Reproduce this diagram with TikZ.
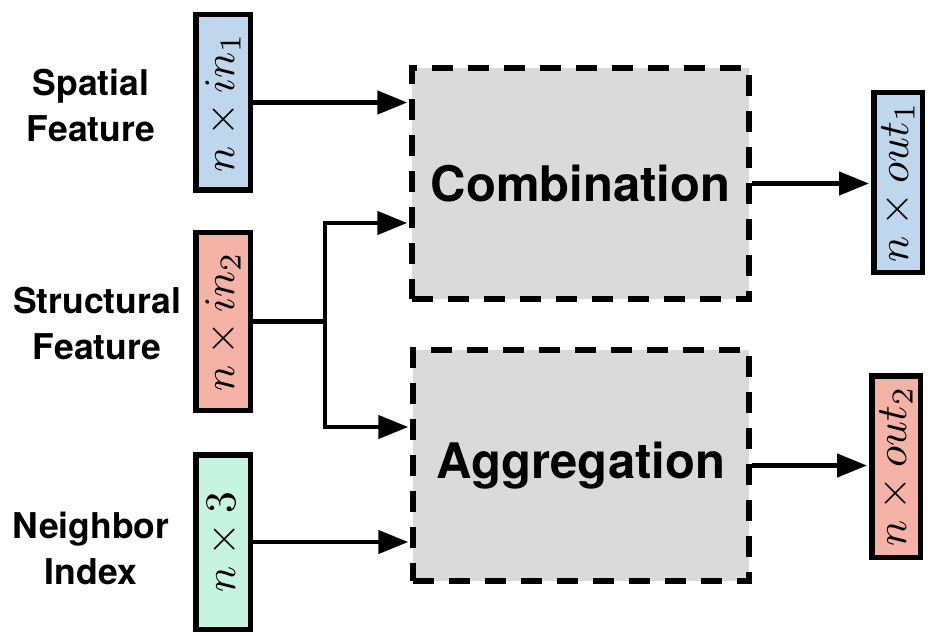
\documentclass[tikz,border=0pt]{standalone}
\usepackage{graphicx}
\usepackage{fontspec}
\setmainfont{TeX Gyre Heros}
\usetikzlibrary{arrows.meta}

\definecolor{featblue}{RGB}{190,215,236}
\definecolor{featred}{RGB}{245,178,166}
\definecolor{featgreen}{RGB}{198,244,224}
\definecolor{opgray}{RGB}{218,218,218}

\newcommand{\dimtext}[1]{\rotatebox{90}{\scalebox{4.35}{$#1$}}}

\tikzset{
  tensor/.style={draw=black, line width=5.5pt, inner sep=0pt,
    minimum width=54.5pt},
  opbox/.style={draw=black, fill=opgray, line width=5.5pt,
    dash pattern=on 21pt off 15pt, inner sep=0pt,
    font=\fontsize{49}{49}\selectfont\bfseries},
  sidelabel/.style={align=center, inner sep=0pt,
    font=\fontsize{35.5}{46}\selectfont\bfseries},
  wire/.style={line width=4.5pt},
  flow/.style={wire, -{Triangle[length=30pt,width=23pt]}, shorten >=2pt}
}

\begin{document}
\begin{tikzpicture}[x=1pt,y=-1pt]
  \useasboundingbox (0,0) rectangle (928,636);

  % input tensors
  \node[tensor, fill=featblue,  minimum height=175.5pt] (sp) at (223,102.5) {\dimtext{n\times in_1}};
  \node[tensor, fill=featred,   minimum height=177.5pt] (st) at (223,321.5) {\dimtext{n\times in_2}};
  \node[tensor, fill=featgreen, minimum height=174.5pt] (nb) at (223,542)   {\dimtext{n\times 3}};

  % side labels
  \node[sidelabel] (lsp) at (91,105)   {Spatial\\Feature};
  \node[sidelabel] (lst) at (97,324)   {Structural\\Feature};
  \node[sidelabel] (lnb) at (91,548.5) {Neighbor\\Index};

  % operations
  \node[opbox, minimum width=337pt, minimum height=231pt] (comb) at (580.5,183.5) {Combination};
  \node[opbox, minimum width=336pt, minimum height=231pt] (agg)  at (581,465.5)   {Aggregation};

  % output tensors
  \node[tensor, fill=featblue, minimum width=48.5pt, minimum height=179.5pt] (o1) at (898,182.5) {\dimtext{n\times out_1}};
  \node[tensor, fill=featred,  minimum width=48.5pt, minimum height=181.5pt] (o2) at (896,466.5) {\dimtext{n\times out_2}};

  % branch of the structural feature into both operations
  \coordinate (split) at (325,321.5);
  \coordinate (inC) at ([yshift=-39.5pt]comb.west);
  \coordinate (inA) at ([yshift=38.5pt]agg.west);
  \coordinate (bendC) at (split |- inC);
  \coordinate (bendA) at (split |- inA);
  \draw[wire] (st.east) -- (split);
  \draw[wire, line cap=rect] (bendC) -- (bendA);
  \draw[flow] (bendC) -- (inC);
  \draw[flow] (bendA) -- (inA);

  % remaining connectors
  \draw[flow] (sp.east) -- (sp.east -| comb.west);
  \draw[flow] (nb.east) -- (nb.east -| agg.west);
  \draw[flow] (comb.east) -- (comb.east -| o1.west);
  \draw[flow] (agg.east) -- (agg.east -| o2.west);
\end{tikzpicture}
\end{document}
